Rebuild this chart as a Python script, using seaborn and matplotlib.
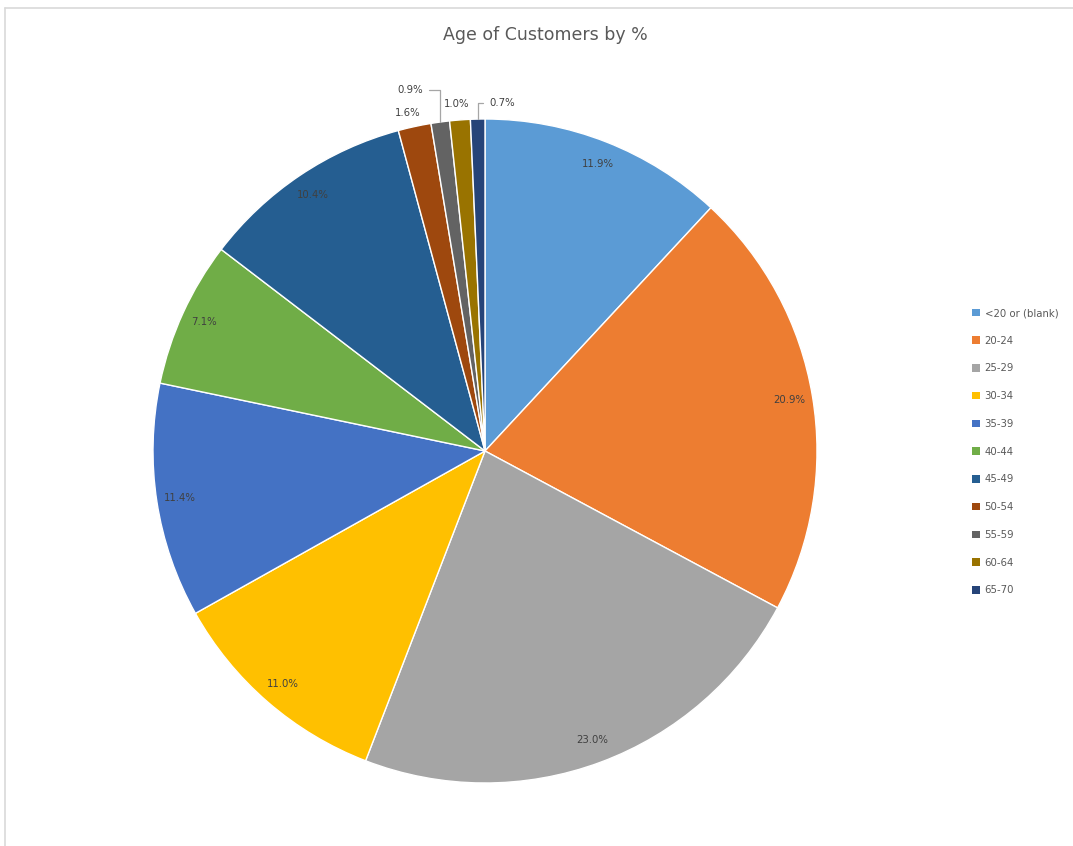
import matplotlib
matplotlib.use("Agg")
import matplotlib.pyplot as plt
import seaborn as sns
import numpy as np
from matplotlib.patches import Patch
from matplotlib.lines import Line2D

# ---- data ----
categories = ["<20 or (blank)", "20-24", "25-29", "30-34", "35-39", "40-44",
              "45-49", "50-54", "55-59", "60-64", "65-70"]
percent_values = [11.9, 20.9, 23.0, 11.0, 11.4, 7.1, 10.4, 1.6, 0.9, 1.0, 0.7]
colors = ["#5B9BD5", "#ED7D31", "#A5A5A5", "#FFC000", "#4472C4", "#70AD47",
          "#255E91", "#9E480E", "#636363", "#997300", "#264478"]
title = "Age of Customers by %"

sns.set_theme(style="white")
plt.rcParams['font.family'] = ['DejaVu Sans']

W, H = 1073, 846
fig = plt.figure(figsize=(W / 100, H / 100), dpi=100)
cx, cy, r = 485, 451, 332
ax = fig.add_axes([(cx - r) / W, (H - cy - r) / H, 2 * r / W, 2 * r / H])

palette = sns.color_palette(colors)
wedges, _ = ax.pie(percent_values, colors=palette, startangle=90, counterclock=False,
                   wedgeprops=dict(edgecolor="white", linewidth=1.0))
ax.set_xlim(-1, 1)
ax.set_ylim(-1, 1)
ax.set_aspect("equal")
ax.axis("off")

label_color = "#404040"
# outside label placements (radius units) for the small slices
outside = {7: (-0.232, 1.018, False), 8: (-0.226, 1.087, True),
           9: (-0.084, 1.045, False), 10: (0.051, 1.048, True)}
for i, (w, v) in enumerate(zip(wedges, percent_values)):
    mid = np.deg2rad((w.theta1 + w.theta2) / 2)
    txt = f"{v:.1f}%"
    if i in outside:
        lx, ly, lead = outside[i]
        if lead:
            ex, ey = np.cos(mid) * 1.0, np.sin(mid) * 1.0
            ax.annotate(txt, xy=(ex, ey), xytext=(lx, ly), ha="center", va="center",
                        fontsize=7.3, color=label_color, annotation_clip=False,
                        arrowprops=dict(arrowstyle="-", color="#a6a6a6", lw=0.9,
                                        connectionstyle="angle,angleA=0,angleB=90,rad=0",
                                        shrinkA=2, shrinkB=0))
        else:
            ax.text(lx, ly, txt, ha="center", va="center", fontsize=7.3, color=label_color)
    else:
        d = 0.93
        ax.text(np.cos(mid) * d, np.sin(mid) * d, txt, ha="center", va="center",
                fontsize=7.3, color=label_color)

fig.text(545 / W, 1 - 35 / H, title, ha="center", va="center", fontsize=12.5, color="#595959")

handles = [Patch(facecolor=c, edgecolor="none") for c in palette]
leg = fig.legend(handles, categories, loc="upper left",
                 bbox_to_anchor=(972 / W, 1 - 308 / H), frameon=False,
                 fontsize=7.3, handlelength=0.75, handleheight=0.75,
                 handletextpad=0.5, labelspacing=1.75, borderaxespad=0, borderpad=0)
for t in leg.get_texts():
    t.set_color("#595959")

# chart-area frame edges
fig.add_artist(Line2D([5 / W, 1], [1 - 8 / H, 1 - 8 / H], color="#d9d9d9", lw=1.2))
fig.add_artist(Line2D([5 / W, 5 / W], [0, 1 - 8 / H], color="#d9d9d9", lw=1.2))

fig.savefig("out.png", dpi=100, facecolor="white")
